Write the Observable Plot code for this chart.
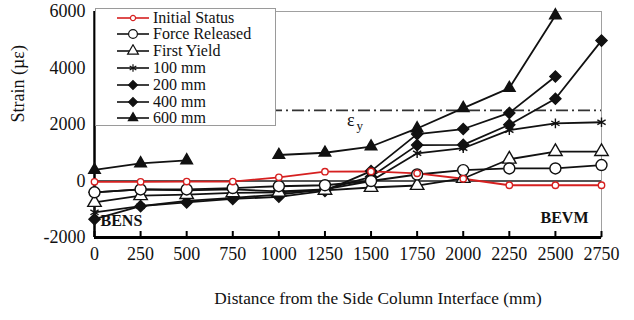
<!DOCTYPE html>
<html>
<head>
<meta charset="utf-8">
<script src="https://cdn.jsdelivr.net/npm/d3@7"></script>
<script src="https://cdn.jsdelivr.net/npm/@observablehq/plot@0.6"></script>
<style>
  html, body { margin: 0; padding: 0; background: #fff; }
  #wrap { position: relative; width: 634px; height: 320px; font-family: "Liberation Serif", "Times New Roman", serif; }
  #wrap svg text { font-family: "Liberation Serif", "Times New Roman", serif !important; }
  #legend { position: absolute; left: 95px; top: 8px; width: 181px; height: 118px; background: #fff; border: 1px solid #9a9a9a; box-sizing: border-box; }
  .row { position: absolute; left: 0; height: 16px; display: flex; align-items: center; color: #111; white-space: nowrap; overflow: visible; }
  .row svg { margin-left: 20px; margin-right: 3px; flex: none; }
  .row span { display: block; height: 16px; line-height: 16px; font-size: 16px; }
</style>
</head>
<body>
<div id="wrap"></div>
<script>
const distances = [0, 250, 500, 750, 1000, 1250, 1500, 1750, 2000, 2250, 2500, 2750];
const seriesNames = ["Initial Status", "Force Released", "First Yield", "100 mm", "200 mm", "400 mm", "600 mm"];
const initialStatus = [-30, -30, -20, -20, 130, 330, 340, 270, 80, -150, -150, -150];
const forceReleased = [-400, -300, -300, -250, -185, -150, 0, 230, 385, 445, 445, 565];
const firstYield = [-760, -520, -480, -420, -400, -330, -230, -160, 90, 770, 1040, 1040];
const mm100 = [-1110, -890, -700, -600, -480, -300, 0, 980, 1160, 1800, 2040, 2080];
const mm200 = [-400, -300, -330, -300, -364, -300, 150, 1270, 1280, 1990, 2910, 4970];
const mm400 = [-1350, -890, -757, -636, -560, -350, 350, 1660, 1840, 2410, 3700, null];
const mm600 = [390, 625, 730, null, 920, 1000, 1220, 1860, 2580, 3290, 5860, null];
const yieldStrain = 2500;
const xTicks = distances;
const yTicks = [-2000, 0, 2000, 4000, 6000];

const seriesValues = [initialStatus, forceReleased, firstYield, mm100, mm200, mm400, mm600];
const styles = {
  "Initial Status": {color: "#d62020", symbol: "circle", r: 3.2, fill: "white"},
  "Force Released": {color: "#111", symbol: "circle", r: 5.5, fill: "white"},
  "First Yield": {color: "#111", symbol: "triangle", r: 5, fill: "white"},
  "100 mm": {color: "#111", symbol: "asterisk", r: 4.5, fill: "none"},
  "200 mm": {color: "#111", symbol: "diamond2", r: 5, fill: "#111"},
  "400 mm": {color: "#111", symbol: "diamond2", r: 5, fill: "#111"},
  "600 mm": {color: "#111", symbol: "triangle", r: 4.3, fill: "#111"}
};

const rows = [];
seriesNames.forEach((name, i) => {
  distances.forEach((d, j) => {
    const v = seriesValues[i][j];
    rows.push({series: name, x: d, y: v == null ? NaN : v});
  });
});

const drawOrder = ["600 mm", "400 mm", "200 mm", "100 mm", "First Yield", "Force Released", "Initial Status"];
const marks = [
  Plot.ruleY([0], {stroke: "#555", strokeWidth: 1.8}),
  Plot.ruleY([yieldStrain], {stroke: "#333", strokeWidth: 1.6, strokeDasharray: "12,4,2,4"}),
  Plot.frame({stroke: "#a0a0a0", strokeWidth: 1}),
  Plot.ruleX([0], {stroke: "#000", strokeWidth: 2.5}),
  Plot.ruleY([-2000], {stroke: "#000", strokeWidth: 2.8}),
  Plot.tickX(xTicks, {x: d => d, stroke: "#000", strokeWidth: 2, insetTop: 220}),
  Plot.text(xTicks, {x: d => d, text: d => `${d}`, frameAnchor: "bottom", dy: 22, fontSize: 18, fill: "#111"}),
  Plot.text(yTicks, {y: d => d, text: d => `${d}`, frameAnchor: "left", dx: -9, textAnchor: "end", fontSize: 18, fill: "#111"})
];
drawOrder.forEach(name => {
  const s = styles[name];
  const data = rows.filter(r => r.series === name);
  marks.push(Plot.line(data, {x: "x", y: "y", stroke: s.color, strokeWidth: 1.8}));
});
drawOrder.forEach(name => {
  const s = styles[name];
  const data = rows.filter(r => r.series === name && !isNaN(r.y));
  marks.push(Plot.dot(data, {x: "x", y: "y", symbol: s.symbol, r: s.r, stroke: s.color, strokeWidth: 1.4, fill: s.fill}));
});
marks.push(
  Plot.text(["BENS"], {frameAnchor: "bottom-left", dx: 6, dy: -12, textAnchor: "start", fontWeight: "bold", fontSize: 16}),
  Plot.text(["BEVM"], {frameAnchor: "bottom-right", dx: -13, dy: -15, textAnchor: "end", fontWeight: "bold", fontSize: 16}),
  Plot.text([{x: 1390, y: yieldStrain}], {x: "x", y: "y", text: () => "ε", dy: 10, fontSize: 18}),
  Plot.text([{x: 1390, y: yieldStrain}], {x: "x", y: "y", text: () => "y", dx: 9, dy: 15, fontSize: 13}),
  Plot.text(["Strain (µε)"], {frameAnchor: "left", dx: -76, dy: -2, rotate: -90, fontSize: 18}),
  Plot.text(["Distance from the Side Column Interface (mm)"], {frameAnchor: "bottom", dy: 66, dx: 30, fontSize: 17.3})
);

const chart = Plot.plot({
  width: 634,
  height: 320,
  marginLeft: 94,
  marginRight: 33,
  marginTop: 11,
  marginBottom: 83,
  style: {fontFamily: "'Liberation Serif', 'Times New Roman', serif", fontSize: "18px", color: "#111", background: "white", overflow: "visible"},
  x: {domain: [0, 2750], axis: null},
  y: {domain: [-2000, 6000], axis: null},
  marks
});
const wrap = document.getElementById("wrap");
wrap.appendChild(chart);

// Legend overlay
const legend = document.createElement("div");
legend.id = "legend";
seriesNames.forEach((name, i) => {
  const s = styles[name];
  const row = document.createElement("div");
  row.className = "row";
  row.style.top = (0.5 + i * 16.8) + "px";
  const svg = d3.create("svg").attr("width", 34).attr("height", 14);
  svg.append("line").attr("x1", 1).attr("x2", 33).attr("y1", 7).attr("y2", 7).attr("stroke", s.color).attr("stroke-width", 1.6);
  const sym = {circle: d3.symbolCircle, triangle: d3.symbolTriangle, asterisk: d3.symbolAsterisk, diamond2: d3.symbolDiamond2}[s.symbol];
  const rr = s.r * 0.8;
  svg.append("path").attr("transform", "translate(17,7)").attr("d", d3.symbol(sym, Math.PI * rr * rr)())
    .attr("stroke", s.color).attr("stroke-width", 1.2).attr("fill", s.fill);
  row.appendChild(svg.node());
  const t = document.createElement("span");
  t.textContent = name;
  row.appendChild(t);
  legend.appendChild(row);
});
wrap.appendChild(legend);
</script>
</body>
</html>
